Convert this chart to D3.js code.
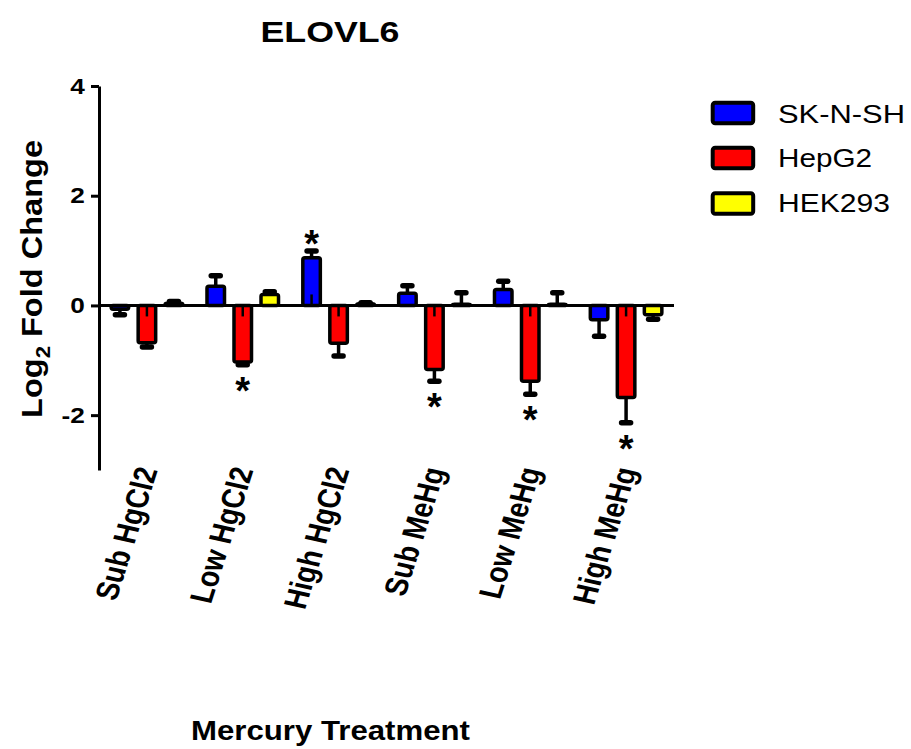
<!DOCTYPE html>
<html>
<head>
<meta charset="utf-8">
<script src="https://cdn.jsdelivr.net/npm/d3@7"></script>
<style>
  html, body { margin: 0; padding: 0; background: #fff; }
  text { font-family: "Liberation Sans", Arial, Helvetica, sans-serif; fill: #000; }
</style>
</head>
<body>
<script>
// ---- data ----
const categories = ["Sub HgCl2", "Low HgCl2", "High HgCl2", "Sub MeHg", "Low MeHg", "High MeHg"];
const seriesNames = ["SK-N-SH", "HepG2", "HEK293"];
const seriesColors = ["#0000FF", "#FF0000", "#FFFF00"];
const skMean  = [-0.07, 0.35, 0.87, 0.22, 0.29, -0.26];
const skErr   = [0.10, 0.19, 0.12, 0.14, 0.15, 0.30];
const hepMean = [-0.68, -1.03, -0.69, -1.17, -1.38, -1.68];
const hepErr  = [0.08, 0.05, 0.23, 0.21, 0.24, 0.46];
const hekMean = [0.04, 0.20, 0.03, 0.02, 0.02, -0.17];
const hekErr  = [0.03, 0.05, 0.02, 0.21, 0.21, 0.08];
const skSig   = [0, 0, 1, 0, 0, 0];
const hepSig  = [0, 1, 0, 1, 1, 1];
const hekSig  = [0, 0, 0, 0, 0, 0];
const yTicks = [-2, 0, 2, 4];
const titleText = "ELOVL6";
const xTitle = "Mercury Treatment";

const means = [skMean, hepMean, hekMean];
const errs = [skErr, hepErr, hekErr];
const sigs = [skSig, hepSig, hekSig];
const rows = categories.flatMap((c, i) => seriesNames.map((s, j) => ({
  c, s, j, v: means[j][i], e: errs[j][i], sig: sigs[j][i]
})));

// ---- layout ----
const W = 911, H = 749;
const SX = 1.19; // horizontal stretch of the original picture
const svg = d3.select("body").append("svg").attr("width", W).attr("height", H);

const x = d3.scaleBand().domain(categories).range([99, 674]).paddingInner(0).paddingOuter(0);
const xs = d3.scaleBand().domain(seriesNames).range([0, x.bandwidth()]).paddingInner(0.222).paddingOuter(0.385);
const y = d3.scaleLinear().domain([-3, 4]).range([470, 86]);
const color = d3.scaleOrdinal().domain(seriesNames).range(seriesColors);

// title
svg.append("text")
  .attr("x", 330).attr("y", 42)
  .attr("text-anchor", "middle")
  .attr("font-size", 30).attr("font-weight", "bold")
  .attr("textLength", 139).attr("lengthAdjust", "spacingAndGlyphs")
  .text(titleText);

// bars
const bw = xs.bandwidth();
const g = svg.append("g");
g.selectAll("rect.bar").data(rows).join("rect")
  .attr("class", "bar")
  .attr("x", d => x(d.c) + xs(d.s) + 1.75)
  .attr("width", bw - 3.5)
  .attr("y", d => y(Math.max(0, d.v)))
  .attr("height", d => Math.abs(y(d.v) - y(0)))
  .attr("rx", 2)
  .attr("fill", d => color(d.s))
  .attr("stroke", "#000").attr("stroke-width", 3.5);

// inner stub of error bar (visible inside larger bars)
g.selectAll("line.stub").data(rows.filter(d => Math.abs(d.v) > 0.5)).join("line")
  .attr("class", "stub")
  .attr("x1", d => x(d.c) + xs(d.s) + bw / 2)
  .attr("x2", d => x(d.c) + xs(d.s) + bw / 2)
  .attr("y1", d => y(0))
  .attr("y2", d => y(0) + (d.v < 0 ? 11 : -11))
  .attr("stroke", "#000").attr("stroke-width", 2.5);

// error bars
g.selectAll("line.err").data(rows).join("line")
  .attr("class", "err")
  .attr("x1", d => x(d.c) + xs(d.s) + bw / 2)
  .attr("x2", d => x(d.c) + xs(d.s) + bw / 2)
  .attr("y1", d => y(d.v))
  .attr("y2", d => y(d.v + Math.sign(d.v) * d.e))
  .attr("stroke", "#000").attr("stroke-width", 3.5);
g.selectAll("line.cap").data(rows).join("line")
  .attr("class", "cap")
  .attr("x1", d => x(d.c) + xs(d.s) + bw / 2 - 4.5)
  .attr("x2", d => x(d.c) + xs(d.s) + bw / 2 + 4.5)
  .attr("y1", d => y(d.v + Math.sign(d.v) * d.e))
  .attr("y2", d => y(d.v + Math.sign(d.v) * d.e))
  .attr("stroke", "#000").attr("stroke-width", 5.5).attr("stroke-linecap", "round");

// significance stars
g.selectAll("text.star").data(rows.filter(d => d.sig)).join("text")
  .attr("class", "star")
  .attr("text-anchor", "middle")
  .attr("font-size", 38).attr("font-weight", "bold")
  .attr("x", d => x(d.c) + xs(d.s) + bw / 2)
  .attr("y", d => {
    const end = y(d.v + Math.sign(d.v) * d.e);
    const cy = d.v < 0 ? end + 17 : end - 16;
    return cy + 22;
  })
  .text("*");

// zero line (x axis)
svg.append("line")
  .attr("x1", 99).attr("x2", 674)
  .attr("y1", y(0)).attr("y2", y(0))
  .attr("stroke", "#000").attr("stroke-width", 3);

// y axis
const yAxis = svg.append("g").attr("transform", "translate(99,0)")
  .call(d3.axisLeft(y).tickValues(yTicks).tickSize(8).tickSizeOuter(0).tickFormat(d3.format("d")));
yAxis.select(".domain").attr("stroke", "#000").attr("stroke-width", 3);
yAxis.selectAll(".tick line").attr("stroke", "#000").attr("stroke-width", 3);
yAxis.selectAll(".tick text")
  .attr("font-size", 22).attr("font-weight", "bold")
  .attr("font-family", "Liberation Sans, Arial, sans-serif")
  .attr("fill", "#000")
  .attr("x", -12)
  .attr("transform", `scale(${SX},1)`)
  .text(d => d < 0 ? "-" + Math.abs(d) : d);

// category labels
svg.append("g").selectAll("text.cat").data(categories).join("text")
  .attr("class", "cat")
  .attr("text-anchor", "end")
  .attr("font-size", 27).attr("font-weight", "bold")
  .attr("transform", c => `translate(${x(c) + x.bandwidth() / 2 + 11},470) scale(${SX},1) rotate(-75)`)
  .text(c => c);

// y axis title
const yt = svg.append("text")
  .attr("text-anchor", "middle")
  .attr("font-size", 25).attr("font-weight", "bold")
  .attr("transform", `translate(42,279) scale(${SX},1) rotate(-90)`)
  .attr("textLength", 278).attr("lengthAdjust", "spacingAndGlyphs");
yt.append("tspan").text("Log");
yt.append("tspan").attr("font-size", 17).attr("dy", 7).text("2");
yt.append("tspan").attr("dy", -7).text(" Fold Change");

// x axis title
svg.append("text")
  .attr("x", 191).attr("y", 740)
  .attr("font-size", 28).attr("font-weight", "bold")
  .attr("textLength", 279).attr("lengthAdjust", "spacingAndGlyphs")
  .text(xTitle);

// legend
const legendTop = [102.7, 147.7, 193.2];
const legendBase = [123, 167, 212];
const legendLen = [127, 94, 112];
const lg = svg.append("g");
lg.selectAll("rect").data(seriesNames).join("rect")
  .attr("x", 712.7).attr("width", 40.5)
  .attr("y", (s, i) => legendTop[i]).attr("height", 20.5)
  .attr("rx", 2.5)
  .attr("fill", s => color(s))
  .attr("stroke", "#000").attr("stroke-width", 4);
lg.selectAll("text").data(seriesNames).join("text")
  .attr("x", 778).attr("y", (s, i) => legendBase[i])
  .attr("font-size", 26)
  .attr("textLength", (s, i) => legendLen[i]).attr("lengthAdjust", "spacingAndGlyphs")
  .text(s => s);
</script>
</body>
</html>
